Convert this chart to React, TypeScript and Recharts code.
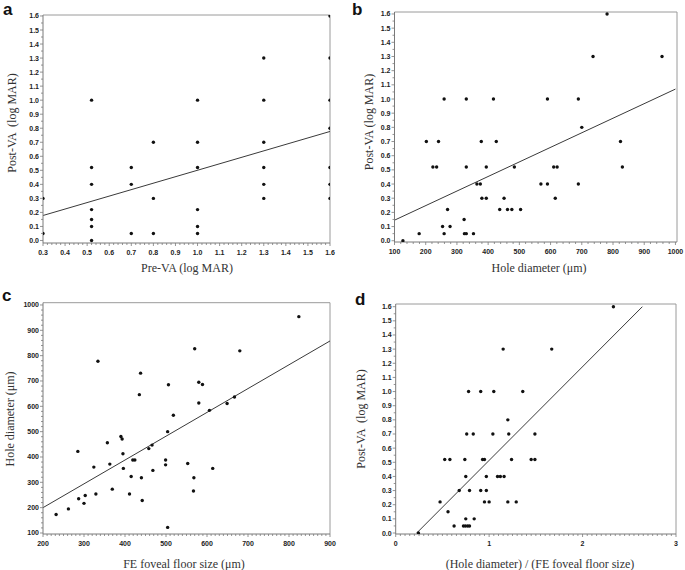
import React from 'react';
import { ScatterChart, Scatter, XAxis, YAxis, ReferenceLine } from 'recharts';

// ---------- Panel a: Pre-VA vs Post-VA ----------
const aPreVA = [0.3, 0.3, 0.52, 0.52, 0.52, 0.52, 0.52, 0.52, 0.52, 0.7, 0.7, 0.7, 0.8, 0.8, 0.8, 1.0, 1.0, 1.0, 1.0, 1.0, 1.0, 1.3, 1.3, 1.3, 1.3, 1.3, 1.3, 1.6, 1.6, 1.6, 1.6, 1.6, 1.6, 1.6];
const aPostVA = [0.3, 0.05, 1.0, 0.52, 0.4, 0.22, 0.15, 0.1, 0.0, 0.52, 0.4, 0.05, 0.7, 0.3, 0.05, 1.0, 0.7, 0.52, 0.22, 0.1, 0.05, 1.3, 1.0, 0.7, 0.52, 0.4, 0.3, 1.6, 1.3, 1.0, 0.8, 0.52, 0.4, 0.3];
const aFit = [{ x: 0.3, y: 0.178 }, { x: 1.6, y: 0.777 }];
const aXTicks = [0.3, 0.4, 0.5, 0.6, 0.7, 0.8, 0.9, 1.0, 1.1, 1.2, 1.3, 1.4, 1.5, 1.6];
const vaTicks = [0.0, 0.1, 0.2, 0.3, 0.4, 0.5, 0.6, 0.7, 0.8, 0.9, 1.0, 1.1, 1.2, 1.3, 1.4, 1.5, 1.6];

// ---------- Panel b: Hole diameter vs Post-VA ----------
const bHole = [781, 736, 957, 259, 330, 417, 590, 689, 700, 202, 241, 378, 426, 824, 223, 235, 330, 394, 484, 610, 621, 830, 364, 375, 569, 590, 689, 380, 394, 451, 615, 270, 437, 462, 476, 504, 323, 254, 278, 179, 259, 324, 330, 353, 127];
const bPostVA = [1.6, 1.3, 1.3, 1.0, 1.0, 1.0, 1.0, 1.0, 0.8, 0.7, 0.7, 0.7, 0.7, 0.7, 0.52, 0.52, 0.52, 0.52, 0.52, 0.52, 0.52, 0.52, 0.4, 0.4, 0.4, 0.4, 0.4, 0.3, 0.3, 0.3, 0.3, 0.22, 0.22, 0.22, 0.22, 0.22, 0.15, 0.1, 0.1, 0.05, 0.05, 0.05, 0.05, 0.05, 0.0];
const bFit = [{ x: 100, y: 0.145 }, { x: 1000, y: 1.07 }];
const bXTicks = [100, 200, 300, 400, 500, 600, 700, 800, 900, 1000];

// ---------- Panel c: FE foveal floor size vs Hole diameter ----------
const cFloor = [824, 570, 680, 334, 438, 580, 589, 506, 435, 667, 580, 649, 606, 518, 504, 285, 390, 393, 357, 466, 458, 395, 324, 363, 419, 424, 499, 499, 553, 614, 396, 468, 415, 440, 568, 369, 329, 411, 567, 442, 287, 303, 300, 262, 232, 504];
const cHole = [954, 827, 819, 778, 731, 695, 686, 685, 646, 637, 613, 611, 584, 565, 500, 422, 481, 471, 456, 447, 433, 413, 360, 372, 388, 388, 388, 369, 374, 355, 355, 347, 323, 318, 318, 273, 254, 254, 266, 228, 235, 248, 217, 195, 173, 122];
const cFit = [{ x: 200, y: 200 }, { x: 900, y: 858 }];
const cXTicks = [200, 300, 400, 500, 600, 700, 800, 900];
const cYTicks = [100, 200, 300, 400, 500, 600, 700, 800, 900, 1000];

// ---------- Panel d: ratio vs Post-VA ----------
const dRatio = [2.33, 1.15, 1.67, 0.78, 0.91, 1.05, 1.36, 1.2, 0.76, 0.83, 1.04, 1.21, 1.49, 0.525, 0.58, 0.74, 0.93, 0.95, 1.24, 1.45, 1.49, 0.75, 0.97, 1.09, 1.12, 1.16, 0.68, 0.79, 0.91, 0.97, 0.475, 0.95, 1.0, 1.2, 1.29, 0.56, 0.75, 0.84, 0.625, 0.725, 0.746, 0.77, 0.79, 0.243];
const dPostVA = [1.6, 1.3, 1.3, 1.0, 1.0, 1.0, 1.0, 0.8, 0.7, 0.7, 0.7, 0.7, 0.7, 0.52, 0.52, 0.52, 0.52, 0.52, 0.52, 0.52, 0.52, 0.4, 0.4, 0.4, 0.4, 0.4, 0.3, 0.3, 0.3, 0.3, 0.22, 0.22, 0.22, 0.22, 0.22, 0.15, 0.1, 0.1, 0.05, 0.05, 0.05, 0.05, 0.05, 0.0];
const dFit = [{ x: 0.225, y: 0 }, { x: 2.64, y: 1.6 }];
const dXTicks = [0, 1, 2, 3];

const pair = (xs: number[], ys: number[]) => xs.map((x, i) => ({ x, y: ys[i] }));

function minorRange(lo: number, hi: number, step: number): number[] {
  const out: number[] = [];
  const n = Math.round((hi - lo) / step);
  for (let i = 0; i <= n; i++) out.push(Number((lo + i * step).toFixed(6)));
  return out;
}

const TICK_FONT = { fontFamily: 'Liberation Sans, Arial, sans-serif', fontWeight: 700, fontSize: 7, fill: '#222' } as const;
const AXIS_COLOR = '#7a7a7a';

function makeTick(orient: 'x' | 'y', majors: number[], fmt: (v: number) => string) {
  const set = new Set(majors.map((v) => v.toFixed(4)));
  return (props: any) => {
    const { x, y, payload } = props;
    const v = Number(payload.value);
    const isMajor = set.has(v.toFixed(4));
    const len = isMajor ? 3 : 2;
    if (orient === 'x') {
      return (
        <g>
          <line x1={x} x2={x} y1={y} y2={y + len} stroke={AXIS_COLOR} strokeWidth={0.8} />
          {isMajor && (
            <text x={x} y={y + 12} textAnchor="middle" {...TICK_FONT}>{fmt(v)}</text>
          )}
        </g>
      );
    }
    return (
      <g>
        <line x1={x} x2={x - len} y1={y} y2={y} stroke={AXIS_COLOR} strokeWidth={0.8} />
        {isMajor && (
          <text x={x - 4} y={y + 2.5} textAnchor="end" {...TICK_FONT}>{fmt(v)}</text>
        )}
      </g>
    );
  };
}

const DotShape = (props: any) => <circle cx={props.cx} cy={props.cy} r={1.7} fill="#111" />;

type PanelProps = {
  left: number; top: number; width: number; height: number;
  margin: { top: number; right: number; bottom: number; left: number };
  xDomain: [number, number]; yDomain: [number, number];
  xMajor: number[]; xMinorStep: number; xFmt: (v: number) => string;
  yMajor: number[]; yMinorStep: number; yFmt: (v: number) => string;
  data: { x: number; y: number }[];
  fit: { x: number; y: number }[];
};

function Panel(p: PanelProps) {
  const xMin = p.xMajor[0], xMax = p.xMajor[p.xMajor.length - 1];
  const yMin = p.yMajor[0], yMax = p.yMajor[p.yMajor.length - 1];
  const xTicks = minorRange(xMin, xMax, p.xMinorStep);
  const yTicks = minorRange(yMin, yMax, p.yMinorStep);
  return (
    <div style={{ position: 'absolute', left: p.left, top: p.top }}>
      <ScatterChart width={p.width} height={p.height} margin={p.margin}>
        <XAxis
          type="number" dataKey="x" domain={p.xDomain} allowDataOverflow
          ticks={xTicks} interval={0} tickSize={0} tickMargin={0} tickLine={false}
          tick={makeTick('x', p.xMajor, p.xFmt)} height={20}
          axisLine={{ stroke: AXIS_COLOR, strokeWidth: 1 }}
        />
        <YAxis
          type="number" dataKey="y" domain={p.yDomain} allowDataOverflow
          ticks={yTicks} interval={0} tickSize={0} tickMargin={0} tickLine={false}
          tick={makeTick('y', p.yMajor, p.yFmt)} width={30}
          axisLine={{ stroke: AXIS_COLOR, strokeWidth: 1 }}
        />
        <ReferenceLine y={p.yDomain[1]} stroke="#9a9a9a" strokeWidth={1} ifOverflow="visible" />
        <ReferenceLine x={p.xDomain[1]} stroke="#9a9a9a" strokeWidth={1} ifOverflow="visible" />
        <ReferenceLine segment={p.fit} stroke="#3a3a3a" strokeWidth={1} ifOverflow="visible" />
        <Scatter data={p.data} shape={DotShape} isAnimationActive={false} />
      </ScatterChart>
    </div>
  );
}

const f1 = (v: number) => v.toFixed(1);
const f0 = (v: number) => v.toFixed(0);

const TITLE = { fontFamily: 'Liberation Serif, Times New Roman, serif', fontSize: 12, fill: '#333' } as const;
const LETTER = { fontFamily: 'Liberation Sans, Arial, sans-serif', fontSize: 17, fontWeight: 700, fill: '#111' } as const;

export default function App() {
  return (
    <div style={{ position: 'absolute', left: 0, top: 0, width: 685, height: 570, background: '#fff', overflow: 'hidden' }}>
      <Panel
        left={0} top={0} width={345} height={285}
        margin={{ top: 15, right: 15, bottom: 22, left: 13 }}
        xDomain={[0.3, 1.6]} yDomain={[-0.018, 1.607]}
        xMajor={aXTicks} xMinorStep={0.02} xFmt={f1}
        yMajor={vaTicks} yMinorStep={0.05} yFmt={f1}
        data={pair(aPreVA, aPostVA)} fit={aFit}
      />
      <Panel
        left={340} top={0} width={345} height={285}
        margin={{ top: 12, right: 8, bottom: 23, left: 24.5 }}
        xDomain={[100, 1005]} yDomain={[-0.009, 1.614]}
        xMajor={bXTicks} xMinorStep={20} xFmt={f0}
        yMajor={vaTicks} yMinorStep={0.05} yFmt={f1}
        data={pair(bHole, bPostVA)} fit={bFit}
      />
      <Panel
        left={0} top={280} width={345} height={290}
        margin={{ top: 22.7, right: 15, bottom: 16, left: 13 }}
        xDomain={[200, 900]} yDomain={[96, 1009]}
        xMajor={cXTicks} xMinorStep={10} xFmt={f0}
        yMajor={cYTicks} yMinorStep={20} yFmt={f0}
        data={pair(cFloor, cHole)} fit={cFit}
      />
      <Panel
        left={340} top={280} width={345} height={290}
        margin={{ top: 24, right: 9, bottom: 16, left: 25.7 }}
        xDomain={[0, 3]} yDomain={[-0.007, 1.619]}
        xMajor={dXTicks} xMinorStep={0.05} xFmt={f0}
        yMajor={vaTicks} yMinorStep={0.05} yFmt={f1}
        data={pair(dRatio, dPostVA)} fit={dFit}
      />
      <svg width={685} height={570} style={{ position: 'absolute', left: 0, top: 0, pointerEvents: 'none' }}>
        <text x={3} y={15} {...LETTER}>a</text>
        <text x={352} y={15} {...LETTER}>b</text>
        <text x={2} y={301} {...LETTER}>c</text>
        <text x={355} y={305} {...LETTER}>d</text>

        <text x={187} y={272} textAnchor="middle" {...TITLE}>Pre-VA (log MAR)</text>
        <text x={539} y={272} textAnchor="middle" {...TITLE}>Hole diameter (μm)</text>
        <text x={184} y={568} textAnchor="middle" {...TITLE}>FE foveal floor size (μm)</text>
        <text x={540} y={568} textAnchor="middle" {...TITLE}>(Hole diameter) / (FE foveal floor size)</text>

        <text transform="translate(16,123) rotate(-90)" textAnchor="middle" {...TITLE} xmlSpace="preserve">Post-VA  (log MAR)</text>
        <text transform="translate(373,122) rotate(-90)" textAnchor="middle" {...TITLE}>Post-VA (log MAR)</text>
        <text transform="translate(14,419) rotate(-90)" textAnchor="middle" {...TITLE}>Hole diameter (μm)</text>
        <text transform="translate(365,419) rotate(-90)" textAnchor="middle" {...TITLE} xmlSpace="preserve">Post-VA  (log MAR)</text>
      </svg>
    </div>
  );
}
